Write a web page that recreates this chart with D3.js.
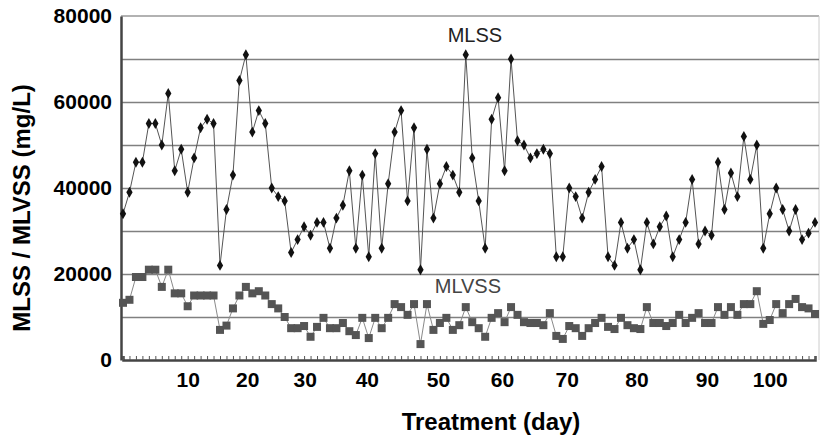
<!DOCTYPE html>
<html>
<head>
<meta charset="utf-8">
<script src="https://cdn.jsdelivr.net/npm/d3@7"></script>
<style>
  body { margin: 0; background: #fff; }
  svg { display: block; font-family: "Liberation Sans", Arial, sans-serif; }
</style>
</head>
<body>
<div id="chart"></div>
<script>
// MLSS (mg/L), one value per sample
var mlss = [
  34000, 39000, 46000, 46000, 55000, 55000, 50000, 62000, 44000, 49000,
  39000, 47000, 54000, 56000, 55000, 22000, 35000, 43000, 65000, 71000,
  53000, 58000, 55000, 40000, 38000, 37000, 25000, 28000, 31000, 29000,
  32000, 32000, 26000, 33000, 36000, 44000, 26000, 43000, 24000, 48000,
  26000, 41000, 53000, 58000, 37000, 54000, 21000, 49000, 33000, 41000,
  45000, 43000, 39000, 71000, 47000, 37000, 26000, 56000, 61000, 44000,
  70000, 51000, 50000, 47000, 48000, 49000, 48000, 24000, 24000, 40000,
  38000, 33000, 39000, 42000, 45000, 24000, 22000, 32000, 26000, 28000,
  21000, 32000, 27000, 31000, 33500, 24000, 28000, 32000, 42000, 27000,
  30000, 29000, 46000, 35000, 43500, 38000, 52000, 42000, 50000, 26000,
  34000, 40000, 35000, 30000, 35000, 28000, 29500, 32000
];

// MLVSS (mg/L)
var mlvss = [
  13300, 14000, 19300, 19300, 21000, 21000, 17000, 21000, 15500, 15500,
  12500, 15000, 15000, 15000, 15000, 7000, 8000, 12000, 15000, 17000,
  15500, 16000, 15000, 13000, 12000, 10000, 7400, 7400, 7900, 5400,
  7700, 9800, 7400, 7400, 8600, 6700, 5800, 9800, 5100, 9800,
  7400, 9800, 13000, 12300, 10500, 13000, 3700, 13000, 7000, 8600,
  9800, 7000, 8100, 12300, 8800, 7400, 5400, 9800, 10900, 8800,
  12300, 10500, 8800, 8600, 8600, 8100, 10900, 5600, 4900, 7900,
  7400, 5600, 7400, 8600, 9800, 7700, 7200, 9800, 8100, 7400,
  7200, 12300, 8600, 8600, 7900, 8600, 10500, 8600, 9800, 10900,
  8600, 8600, 12300, 10500, 12300, 10500, 13000, 13000, 16000, 8400,
  9300, 13000, 10900, 13000, 14200, 12300, 12000, 10700
];

// day labels and the sample index they sit under
var dayLabels = ["10", "20", "30", "40", "50", "60", "70", "80", "90", "100"];
var dayLabelIdx = [10, 19.2, 28.1, 37.7, 48.7, 58.6, 68.6, 79.4, 90.3, 100];

var yMajor = [0, 20000, 40000, 60000, 80000];
var yGrid = [10000, 20000, 30000, 40000, 50000, 60000, 70000];

var W = 820, H = 438;
var margin = {top: 16, right: 1, bottom: 78, left: 121};
var width = W - margin.left - margin.right,
    height = H - margin.top - margin.bottom;

var svg = d3.select("#chart").append("svg")
    .attr("width", W)
    .attr("height", H);

var g = svg.append("g")
    .attr("transform", "translate(" + margin.left + "," + margin.top + ")");

var x = d3.scaleLinear()
    .domain([0, mlss.length - 1])
    .range([2, width - 4]);
var y = d3.scaleLinear()
    .domain([0, 80000])
    .range([height, 0]);

// frame (top + right)
g.append("line").attr("x1", 0).attr("x2", width).attr("y1", 0).attr("y2", 0)
  .attr("stroke", "#999").attr("stroke-width", 1.5);
g.append("line").attr("x1", width).attr("x2", width).attr("y1", 0).attr("y2", height)
  .attr("stroke", "#ccc").attr("stroke-width", 1);

// grid
g.append("g")
  .attr("class", "grid")
  .call(d3.axisLeft(y).tickValues(yGrid).tickSize(-width).tickFormat(""))
  .call(function(s) {
    s.select(".domain").remove();
    s.selectAll("line").attr("stroke", "#808080").attr("stroke-width", 1.3);
  });

// y axis
g.append("g")
  .call(d3.axisLeft(y).tickValues(yMajor).tickSize(0).tickPadding(9).tickFormat(d3.format("d")))
  .call(function(s) {
    s.select(".domain").attr("stroke", "#444").attr("stroke-width", 2.5);
    s.selectAll("text")
      .attr("font-size", 21).attr("font-weight", "bold")
      .attr("fill", "#000")
      .attr("font-family", "Liberation Sans, Arial, sans-serif");
  });

// x axis: a small tick per sample
g.append("g")
  .attr("transform", "translate(0," + height + ")")
  .call(d3.axisBottom(x).tickValues(d3.range(mlss.length)).tickSize(-4).tickFormat(""))
  .call(function(s) {
    s.select(".domain").attr("stroke", "#444").attr("stroke-width", 2.5);
    s.selectAll(".tick line").attr("stroke", "#555").attr("stroke-width", 1);
  });

g.append("g")
  .attr("transform", "translate(0," + height + ")")
  .call(d3.axisBottom(x).tickValues(dayLabelIdx).tickSize(0).tickPadding(12)
    .tickFormat(function(d, i) { return dayLabels[i]; }))
  .call(function(s) {
    s.select(".domain").remove();
    s.selectAll("text")
      .attr("font-size", 21).attr("font-weight", "bold")
      .attr("fill", "#000")
      .attr("font-family", "Liberation Sans, Arial, sans-serif");
  });

var line = d3.line()
    .x(function(d, i) { return x(i); })
    .y(function(d) { return y(d); });

// MLVSS
g.append("path")
  .datum(mlvss)
  .attr("fill", "none")
  .attr("stroke", "#8a8a8a")
  .attr("stroke-width", 1)
  .attr("d", line);

g.selectAll(".sq")
  .data(mlvss)
  .enter().append("rect")
  .attr("class", "sq")
  .attr("x", function(d, i) { return x(i) - 4; })
  .attr("y", function(d) { return y(d) - 4; })
  .attr("width", 8)
  .attr("height", 8)
  .attr("fill", "#555");

// MLSS
g.append("path")
  .datum(mlss)
  .attr("fill", "none")
  .attr("stroke", "#555")
  .attr("stroke-width", 1)
  .attr("d", line);

var diamond = d3.symbol().type(d3.symbolDiamond).size(34);
g.selectAll(".dm")
  .data(mlss)
  .enter().append("path")
  .attr("class", "dm")
  .attr("transform", function(d, i) { return "translate(" + x(i) + "," + y(d) + ")"; })
  .attr("d", diamond)
  .attr("fill", "#111");

// series labels
g.append("text")
  .attr("x", x(50.2)).attr("y", y(74000))
  .attr("font-size", 20).attr("fill", "#222")
  .attr("font-family", "Liberation Sans, Arial, sans-serif")
  .text("MLSS");

g.append("text")
  .attr("x", x(48.2)).attr("y", y(15600))
  .attr("font-size", 20).attr("fill", "#444")
  .attr("font-family", "Liberation Sans, Arial, sans-serif")
  .text("MLVSS");

// axis titles
svg.append("text")
  .attr("transform", "translate(30," + (margin.top + height / 2 + 20) + ") rotate(-90)")
  .attr("text-anchor", "middle")
  .attr("font-size", 24).attr("font-weight", "bold")
  .attr("font-family", "Liberation Sans, Arial, sans-serif")
  .text("MLSS / MLVSS (mg/L)");

svg.append("text")
  .attr("x", 491).attr("y", 430)
  .attr("text-anchor", "middle")
  .attr("font-size", 24).attr("font-weight", "bold")
  .attr("font-family", "Liberation Sans, Arial, sans-serif")
  .text("Treatment (day)");
</script>
</body>
</html>
